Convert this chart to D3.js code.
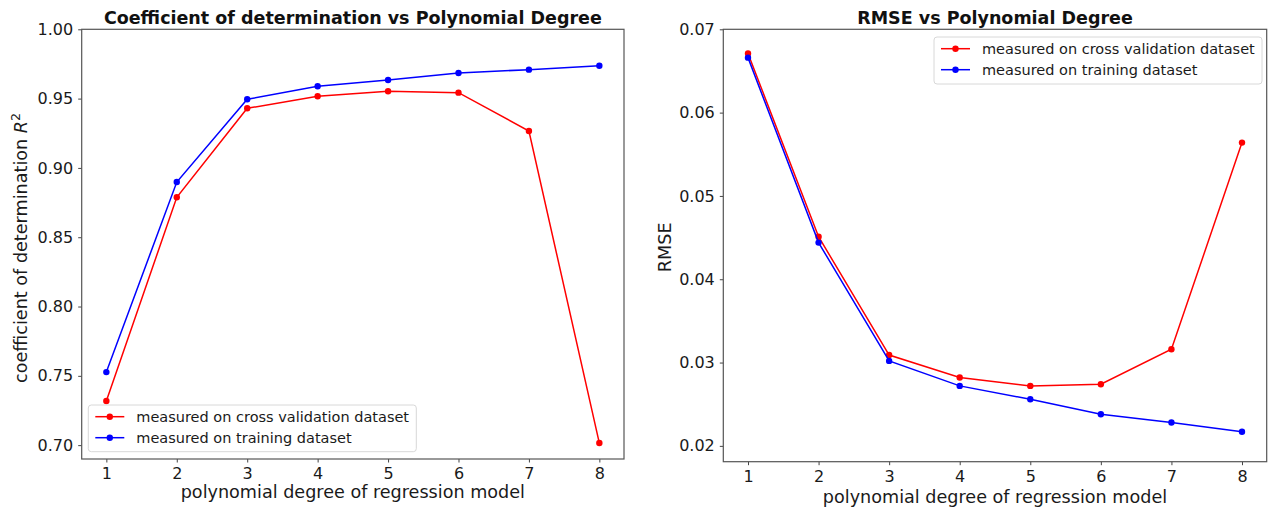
<!DOCTYPE html>
<html>
<head>
<meta charset="utf-8">
<script src="https://cdn.jsdelivr.net/npm/d3@7"></script>
<style>
  html, body { margin: 0; padding: 0; background: #fff; }
  svg { display: block; font-family: "DejaVu Sans", sans-serif; }
</style>
</head>
<body>
<svg id="chart" width="1275" height="512"></svg>
<script>
// Polynomial degrees evaluated
const degrees = [1, 2, 3, 4, 5, 6, 7, 8];

// Coefficient of determination R^2
const r2Validation = [0.7318, 0.8788, 0.9430, 0.9517, 0.9553, 0.9543, 0.9266, 0.7015];
const r2Training   = [0.7527, 0.8898, 0.9495, 0.9589, 0.9634, 0.9685, 0.9709, 0.9737];

// Root mean squared error
const rmseValidation = [0.0671, 0.0451, 0.0309, 0.0282, 0.0272, 0.0274, 0.0316, 0.0564];
const rmseTraining   = [0.0666, 0.0444, 0.0302, 0.0272, 0.0256, 0.0238, 0.0228, 0.0217];

// Axis ticks
const xTicks = [1, 2, 3, 4, 5, 6, 7, 8];
const r2Ticks = [0.70, 0.75, 0.80, 0.85, 0.90, 0.95, 1.00];
const rmseTicks = [0.02, 0.03, 0.04, 0.05, 0.06, 0.07];

const seriesNames = ["measured on cross validation dataset", "measured on training dataset"];
const seriesColors = ["#ff0000", "#0000ff"];

const svg = d3.select("#chart");

function panel(cfg) {
  const g = svg.append("g");
  const x = d3.scaleLinear().domain([0.65, 8.35]).range([cfg.left, cfg.right]);
  const y = d3.scaleLinear().domain(cfg.yDomain).range([cfg.bottom, cfg.top]);

  // axes
  const xAxis = d3.axisBottom(x).tickValues(xTicks).tickFormat(d3.format("d"))
    .tickSize(3.5).tickPadding(5);
  const yAxis = d3.axisLeft(y).tickValues(cfg.yTicks).tickFormat(d3.format(cfg.fmt))
    .tickSize(3.5).tickPadding(5);

  const gx = g.append("g").attr("transform", `translate(0,${cfg.bottom})`).call(xAxis);
  const gy = g.append("g").attr("transform", `translate(${cfg.left},0)`).call(yAxis);
  [gx, gy].forEach(a => {
    a.select(".domain").remove();
    a.selectAll(".tick line").attr("stroke", "#444").attr("stroke-width", 1);
    a.selectAll(".tick text").attr("fill", "#1a1a1a").attr("font-size", 16)
      .attr("font-family", "DejaVu Sans");
  });

  // frame
  g.append("rect")
    .attr("x", cfg.left).attr("y", cfg.top)
    .attr("width", cfg.right - cfg.left).attr("height", cfg.bottom - cfg.top)
    .attr("fill", "none").attr("stroke", "#555").attr("stroke-width", 1.2);

  // series
  const line = d3.line().x((d, i) => x(degrees[i])).y(d => y(d));
  cfg.series.forEach((vals, si) => {
    g.append("path").datum(vals).attr("d", line)
      .attr("fill", "none").attr("stroke", seriesColors[si]).attr("stroke-width", 1.5);
    g.selectAll(null).data(vals).enter().append("circle")
      .attr("cx", (d, i) => x(degrees[i])).attr("cy", d => y(d)).attr("r", 3.2)
      .attr("fill", seriesColors[si]);
  });

  // title
  g.append("text")
    .attr("x", (cfg.left + cfg.right) / 2).attr("y", 24)
    .attr("text-anchor", "middle").attr("font-weight", "bold").attr("font-size", 17.5)
    .attr("fill", "#111").text(cfg.title);

  // x label
  g.append("text")
    .attr("x", (cfg.left + cfg.right) / 2).attr("y", cfg.xLabelY)
    .attr("text-anchor", "middle").attr("font-size", 17.6).attr("fill", "#1a1a1a")
    .text("polynomial degree of regression model");

  // y label
  const yl = g.append("text")
    .attr("transform", `translate(${cfg.yLabelX},${cfg.yLabelCY}) rotate(-90)`)
    .attr("text-anchor", "middle").attr("font-size", 17.6).attr("fill", "#1a1a1a");
  cfg.yLabel(yl);

  // legend
  const L = cfg.legend;
  const lg = g.append("g");
  lg.append("rect")
    .attr("x", L.x).attr("y", L.y).attr("width", L.w).attr("height", L.h)
    .attr("rx", 3).attr("fill", "rgba(255,255,255,0.8)")
    .attr("stroke", "#d8d8d8").attr("stroke-width", 1);
  seriesNames.forEach((name, i) => {
    const yy = L.y + 11.7 + i * 21;
    lg.append("line").attr("x1", L.x + 7).attr("x2", L.x + 36)
      .attr("y1", yy).attr("y2", yy)
      .attr("stroke", seriesColors[i]).attr("stroke-width", 1.5);
    lg.append("circle").attr("cx", L.x + 21.5).attr("cy", yy).attr("r", 3.2)
      .attr("fill", seriesColors[i]);
    lg.append("text").attr("x", L.x + 48).attr("y", yy + 5)
      .attr("font-size", 14.5).attr("fill", "#1a1a1a").text(name);
  });
}

panel({
  left: 81.7, right: 624, top: 29.3, bottom: 459,
  yDomain: [0.69, 1.0], yTicks: r2Ticks, fmt: ".2f",
  series: [r2Validation, r2Training],
  title: "Coefficient of determination vs Polynomial Degree",
  xLabelY: 498,
  yLabelX: 27, yLabelCY: 248,
  yLabel: t => {
    t.append("tspan").text("coefficient of determination ");
    t.append("tspan").attr("font-style", "italic").text("R");
    t.append("tspan").attr("font-size", 12.5).attr("dy", -7).text("2");
  },
  legend: { x: 88.3, y: 405, w: 328, h: 46.7 }
});

panel({
  left: 723.3, right: 1266.7, top: 29.3, bottom: 461.7,
  yDomain: [0.0181, 0.07], yTicks: rmseTicks, fmt: ".2f",
  series: [rmseValidation, rmseTraining],
  title: "RMSE vs Polynomial Degree",
  xLabelY: 502.7,
  yLabelX: 671, yLabelCY: 247.3,
  yLabel: t => t.text("RMSE"),
  legend: { x: 934, y: 37, w: 328, h: 47 }
});
</script>
</body>
</html>
